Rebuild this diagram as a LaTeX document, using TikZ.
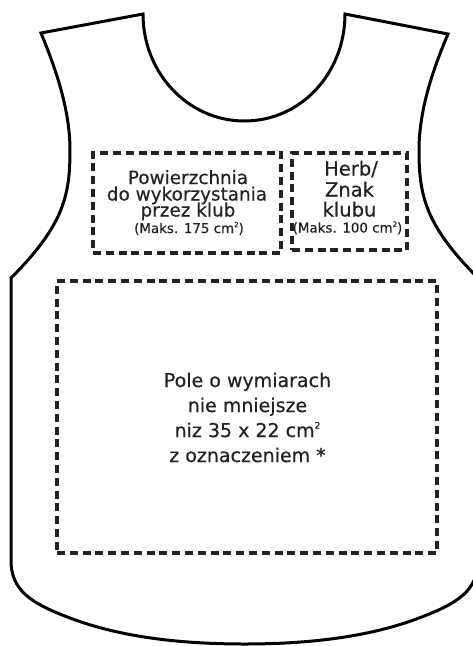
\documentclass[tikz,border=0pt]{standalone}
\usepackage{fontspec}
\setmainfont{DejaVu Sans}[FakeBold=0.5]
\newcommand\sqr[1]{\raisebox{0.8ex}{\fontsize{#1}{#1}\selectfont 2}}
\definecolor{ink}{HTML}{222222}
\begin{document}
\begin{tikzpicture}[x=1pt,y=-1pt,
  vest/.style={draw=black, line width=3pt, line join=miter},
  zone/.style={draw=ink, line width=3.2pt, dash pattern=on 8pt off 4.8pt,
    inner sep=0pt},
  txt/.style={anchor=base, inner sep=0pt, text=ink},
  sA/.style={txt, font=\fontsize{18.4}{18}\selectfont},
  sB/.style={txt, font=\fontsize{19.5}{20}\selectfont},
  sC/.style={txt, font=\fontsize{19}{19}\selectfont},
  sS/.style={txt, font=\fontsize{13.4}{13}\selectfont}]
\useasboundingbox (0,0) rectangle (473,646);
% vest outline
\draw[vest] (41,33) -- (143,14)
  .. controls (143,73) and (188,121) .. (244.5,121)
  .. controls (301,121) and (345,73) .. (345,14)
  -- (448,34)
  .. controls (437,60) and (419,105) .. (419,150)
  .. controls (419,195) and (425,225) .. (478,278)
  -- (478,560)
  .. controls (478,590) and (459,603) .. (419,618)
  .. controls (369,637) and (309,644) .. (244.5,644)
  .. controls (180,644) and (120,637) .. (70,618)
  .. controls (30,603) and (11,590) .. (11,560)
  -- (11,278)
  .. controls (64,225) and (70,195) .. (70,150)
  .. controls (70,105) and (52,60) .. cycle;
% zones
\node[zone, minimum width=188pt, minimum height=100pt] (club) at (187,203) {};
\node[zone, minimum width=115pt, minimum height=97pt] (herb) at (349.5,201.5) {};
\node[zone, minimum width=380pt, minimum height=272pt] (field) at (247,417) {};
% texts of the club zone
\node[sA] (c1) at (188,184) {Powierzchnia};
\node[sA] (c2) at (187,200.5) {do wykorzystania};
\node[sA] (c3) at (188,216.5) {przez klub};
\node[sS] (c4) at (189,233) {(Maks. 175 cm\sqr{7})};
% texts of the herb zone
\node[sB] (h1) at (351,175.5) {Herb/};
\node[sB] (h2) at (349.5,196.5) {Znak};
\node[sB] (h3) at (349.5,216.5) {klubu};
\node[sS] (h4) at (347.5,232.5) {(Maks. 100 cm\sqr{7})};
% texts of the big field
\node[sC] (f1) at (247.5,387) {Pole o wymiarach};
\node[sC] (f2) at (247.5,412) {nie mniejsze};
\node[sC] (f3) at (247.5,437) {niz 35 x 22 cm\sqr{9}};
\node[sC] (f4) at (247.5,462) {z oznaczeniem *};
\end{tikzpicture}
\end{document}
